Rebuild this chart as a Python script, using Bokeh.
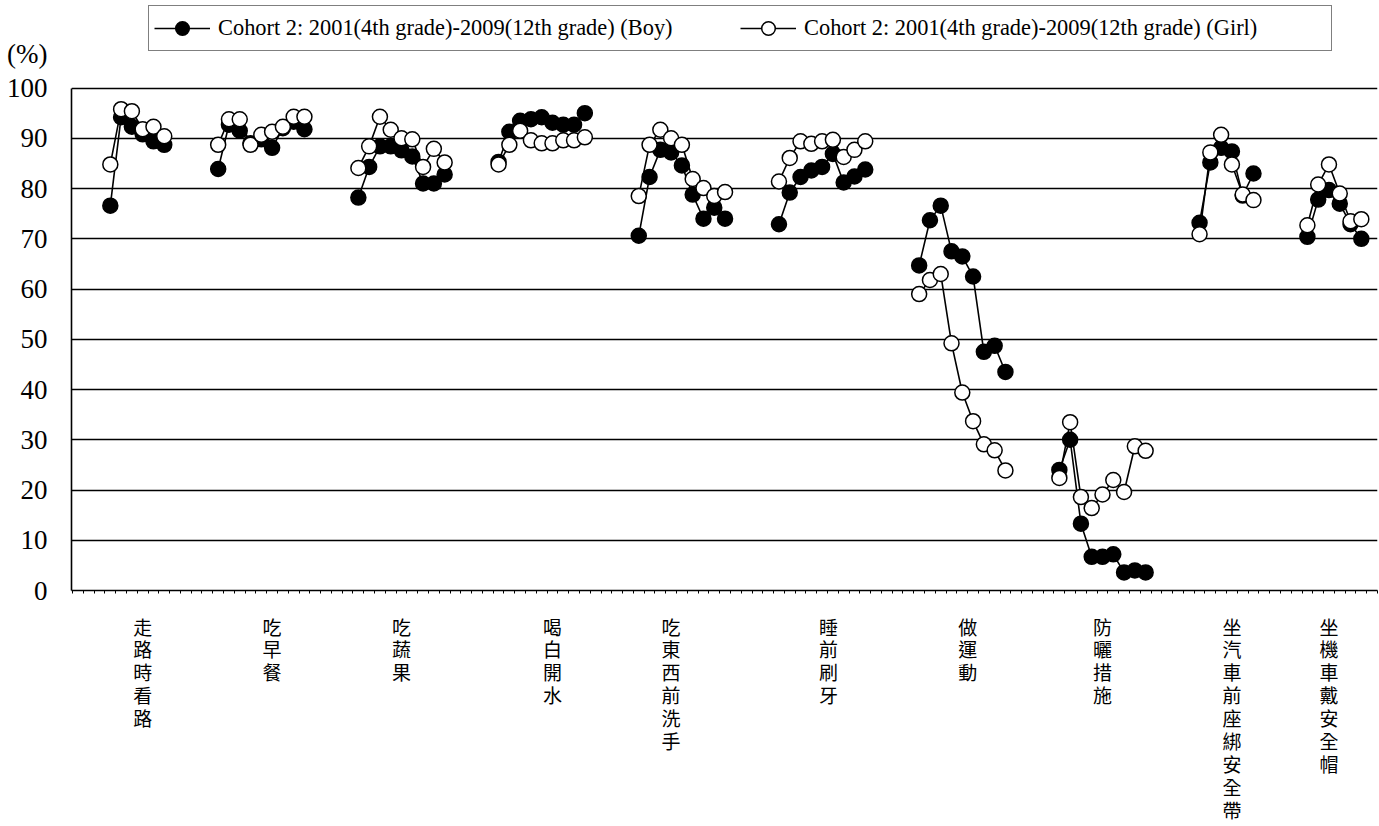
from bokeh.plotting import figure
from bokeh.models import ColumnDataSource, FixedTicker, Legend, LegendItem, Range1d, LinearAxis
from bokeh.embed import file_html
from bokeh.resources import INLINE
import numpy as np

# ---------------- data ----------------
categories = ["走路時看路", "吃早餐", "吃蔬果", "喝白開水", "吃東西前洗手",
              "睡前刷牙", "做運動", "防曬措施", "坐汽車前座綁安全帶", "坐機車戴安全帽"]

boy_walk = [76.6, 94.2, 92.3, 90.8, 89.4, 88.7]
girl_walk = [84.8, 95.8, 95.4, 91.8, 92.3, 90.4]
boy_breakfast = [83.9, 92.7, 91.5, 89.0, 89.8, 88.1, 92.0, 93.3, 91.8]
girl_breakfast = [88.7, 93.8, 93.8, 88.7, 90.7, 91.3, 92.3, 94.3, 94.3]
boy_veg = [78.2, 84.3, 88.4, 88.4, 87.6, 86.4, 81.0, 81.0, 82.8]
girl_veg = [84.1, 88.4, 94.3, 91.7, 90.0, 89.8, 84.3, 87.9, 85.2]
boy_water = [85.3, 91.3, 93.5, 93.8, 94.2, 93.1, 92.7, 92.7, 95.0]
girl_water = [84.8, 88.7, 91.5, 89.6, 89.0, 89.0, 89.6, 89.6, 90.2]
boy_wash = [70.6, 82.3, 87.7, 87.2, 84.6, 78.8, 74.0, 76.2, 74.0]
girl_wash = [78.5, 88.7, 91.7, 90.0, 88.7, 81.9, 80.1, 78.5, 79.3]
boy_brush = [72.9, 79.2, 82.3, 83.6, 84.3, 86.9, 81.2, 82.4, 83.8]
girl_brush = [81.4, 86.1, 89.4, 88.9, 89.4, 89.7, 86.3, 87.7, 89.4]
boy_exercise = [64.7, 73.7, 76.6, 67.5, 66.5, 62.5, 47.5, 48.7, 43.5]
girl_exercise = [59.0, 61.8, 63.0, 49.2, 39.4, 33.7, 29.1, 27.9, 23.9]
boy_sun = [24.0, 30.0, 13.3, 6.7, 6.7, 7.2, 3.6, 4.0, 3.6]
girl_sun = [22.4, 33.5, 18.6, 16.4, 19.1, 22.0, 19.6, 28.7, 27.8]
boy_car = [73.2, 85.2, 88.1, 87.4, 78.6, 83.0]
girl_car = [70.9, 87.2, 90.7, 84.8, 78.8, 77.7]
boy_helmet = [70.4, 77.8, 79.7, 77.0, 72.9, 70.0]
girl_helmet = [72.7, 80.8, 84.8, 79.0, 73.5, 73.9]

boy_groups = [boy_walk, boy_breakfast, boy_veg, boy_water, boy_wash,
              boy_brush, boy_exercise, boy_sun, boy_car, boy_helmet]
girl_groups = [girl_walk, girl_breakfast, girl_veg, girl_water, girl_wash,
               girl_brush, girl_exercise, girl_sun, girl_car, girl_helmet]

y_ticks = [0, 10, 20, 30, 40, 50, 60, 70, 80, 90, 100]
unit_label = "(%)"
legend_boy = "Cohort 2: 2001(4th grade)-2009(12th grade) (Boy)"
legend_girl = "Cohort 2: 2001(4th grade)-2009(12th grade) (Girl)"

# category-axis layout (slots)
lead_slots = 3
gap_slots = 4
label_offset = [3, 5, 4, 5, 3, 4.6, 4.5, 4, 3, 2]

starts = []
s = lead_slots
for g in boy_groups:
    starts.append(s)
    s += len(g) + gap_slots
n_slots = starts[-1] + len(boy_groups[-1]) + 1

def series(groups):
    xs, ys = [], []
    for st, g in zip(starts, groups):
        xs += [st + i + 0.5 for i in range(len(g))] + [np.nan]
        ys += list(g) + [np.nan]
    return xs, ys

bx, by = series(boy_groups)
gx, gy = series(girl_groups)
boy_src = ColumnDataSource(dict(x=bx, y=by))
girl_src = ColumnDataSource(dict(x=gx, y=gy))

# ---------------- figure ----------------
# y range extends above 100 so that the legend and the unit label fit inside the frame
y_top = 117.43
unit_pos = 106.8

p = figure(width=1379, height=826, output_backend="svg", toolbar_location=None,
           x_range=Range1d(-0.1, n_slots), y_range=Range1d(0, y_top),
           min_border_left=71, min_border_right=2, min_border_top=0, min_border_bottom=233)
p.outline_line_color = None
p.background_fill_color = "white"
p.border_fill_color = "white"

serif = "Liberation Serif"
cjk = "Noto Sans CJK TC"

# horizontal grid lines 0..100
p.xgrid.grid_line_color = None
p.ygrid.grid_line_color = "black"
p.ygrid.grid_line_width = 1.6
p.ygrid.ticker = FixedTicker(ticks=y_ticks)

# inner value axis: just the axis line from 0 to 100
p.yaxis.ticker = FixedTicker(ticks=[])
p.yaxis.bounds = (y_ticks[0], y_ticks[-1])
p.yaxis.axis_line_color = "black"
p.yaxis.axis_line_width = 1.6
p.yaxis.major_tick_out = 0
p.yaxis.major_tick_in = 0
p.yaxis.minor_tick_line_color = None
p.yaxis.major_label_standoff = 0

# outer value axis: the tick labels and the unit
label_axis = LinearAxis(ticker=FixedTicker(ticks=y_ticks + [unit_pos]))
label_axis.major_label_overrides = {unit_pos: unit_label}
label_axis.axis_line_color = None
label_axis.major_tick_out = 0
label_axis.major_tick_in = 0
label_axis.minor_tick_line_color = None
label_axis.major_label_text_font = serif
label_axis.major_label_text_font_size = "27px"
label_axis.major_label_text_color = "black"
label_axis.major_label_standoff = 24
p.add_layout(label_axis, "left")

label_pos = [st + off + 0.5 for st, off in zip(starts, label_offset)]
p.xaxis.ticker = FixedTicker(ticks=label_pos, minor_ticks=list(range(0, n_slots + 1)))
p.xaxis.major_label_overrides = {pos: "\n".join(c) for pos, c in zip(label_pos, categories)}
p.xaxis.major_label_text_font = cjk
p.xaxis.major_label_text_font_size = "19px"
p.xaxis.major_label_text_line_height = 0.85
p.xaxis.major_label_text_color = "black"
p.xaxis.major_label_standoff = 19
p.xaxis.axis_line_color = "black"
p.xaxis.axis_line_width = 1.6
p.xaxis.major_tick_out = 0
p.xaxis.major_tick_in = 0
p.xaxis.minor_tick_out = 3
p.xaxis.minor_tick_in = 0
p.xaxis.minor_tick_line_color = "black"
p.xaxis.minor_tick_line_width = 1

boy_line = p.line("x", "y", source=boy_src, line_color="black", line_width=1.6)
boy_pts = p.scatter("x", "y", source=boy_src, marker="circle", size=15,
                    fill_color="black", line_color="black", line_width=1.5)
girl_line = p.line("x", "y", source=girl_src, line_color="black", line_width=1.6)
girl_pts = p.scatter("x", "y", source=girl_src, marker="circle", size=15,
                     fill_color="white", line_color="black", line_width=1.5)

legend = Legend(items=[LegendItem(label=legend_boy, renderers=[boy_line, boy_pts]),
                       LegendItem(label=legend_girl, renderers=[girl_line, girl_pts])],
                orientation="horizontal", location=(77, 539))
legend.label_text_font = serif
legend.label_text_font_size = "22.4px"
legend.label_text_color = "black"
legend.label_width = 522
legend.border_line_color = "black"
legend.border_line_width = 1.5
legend.background_fill_alpha = 1
legend.padding = 5
legend.margin = 0
legend.spacing = 0
legend.glyph_width = 56
legend.glyph_height = 34
legend.label_standoff = 8
p.add_layout(legend)

open("out.html", "w").write(file_html(p, INLINE))
